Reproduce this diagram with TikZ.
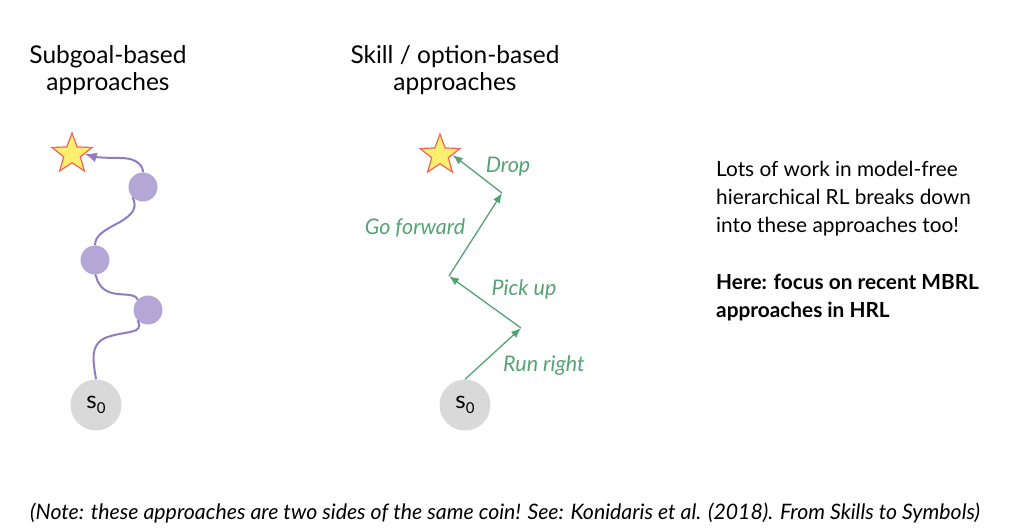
\documentclass[tikz,border=0pt]{standalone}
\usepackage{fontspec}
\setmainfont{Lato}
\usetikzlibrary{shapes.geometric,arrows.meta}
\definecolor{sub}{HTML}{B4A7D6}
\definecolor{subline}{HTML}{8E7CC3}
\definecolor{skl}{HTML}{55A374}
\definecolor{stfill}{HTML}{FFEF6E}
\definecolor{stline}{HTML}{F2645A}
\definecolor{sgray}{HTML}{D9D9D9}
\newcommand{\sz}{s\raisebox{-5pt}{\fontsize{15}{15}\selectfont 0}}
\tikzset{
  goalstar/.style={star, star points=5, star point ratio=2.4, minimum size=42pt, inner sep=0pt, fill=stfill, draw=stline, line width=1.2pt},
  subnode/.style={circle, fill=sub, minimum size=29pt, inner sep=0pt},
  startnode/.style={circle, fill=sgray, minimum size=51pt, inner sep=0pt, font=\fontsize{24}{24}\selectfont},
  subpath/.style={draw=subline, line width=2pt},
  sklpath/.style={draw=skl, line width=1.3pt, -{Latex[length=10pt,width=8pt]}},
  skllabel/.style={text=skl, font=\fontsize{21.5}{24}\selectfont\itshape},
  title/.style={align=center, font=\fontsize{24.5}{27}\selectfont},
}
\begin{document}
\begin{tikzpicture}[x=1pt,y=-1pt]
\useasboundingbox (0,0) rectangle (1035,528);
% titles
\node[title] (t1) at (108,70) {Subgoal-based\\approaches};
\node[title] (t2) at (455,70) {Skill / option-based\\approaches};
% left diagram
\node[goalstar] (g1) at (72,154) {};
\node[subnode] (c1) at (143,187) {};
\node[subnode] (c2) at (95,260) {};
\node[subnode] (c3) at (148,310) {};
\node[startnode] (s1) at (96,405) {\sz};
\draw[subpath] (s1.north) .. controls (93,360) and (90,345) .. (105,338) .. controls (125,330) and (145,335) .. (c3.south west);
\draw[subpath] (c3.north west) .. controls (135,290) and (110,300) .. (100,285) .. controls (96,280) and (97,276) .. (c2.south);
\draw[subpath] (c2.north) .. controls (95,235) and (105,230) .. (120,222) .. controls (132,215) and (138,208) .. (c1.south west);
\draw[subpath, -{Latex[length=12pt,width=10pt]}] (c1.north) .. controls (143,168) and (140,158) .. (120,158) .. controls (105,158) and (95,157) .. (g1.east);
% right diagram
\node[goalstar] (g2) at (440,155) {};
\node[startnode] (s2) at (465,405) {\sz};
\coordinate (p1) at (521,328);
\coordinate (p2) at (449,276);
\coordinate (p3) at (502,193);
\draw[sklpath] (s2.north) -- (p1);
\draw[sklpath] (p1) -- (p2);
\draw[sklpath] (p2) -- (p3);
\draw[sklpath] (p3) -- (g2.east);
\node[skllabel] (l1) at (508,167) {Drop};
\node[skllabel] (l2) at (415,228) {Go forward};
\node[skllabel] (l3) at (524,289) {Pick up};
\node[skllabel] (l4) at (544,366) {Run right};
% right text
\node[anchor=west, align=left, font=\fontsize{20.8}{28.3}\selectfont, inner sep=0pt] (txt) at (716,241) {Lots of work in model-free\\hierarchical RL breaks down\\into these approaches too!\\[28.3pt]\textbf{Here: focus on recent MBRL}\\\textbf{approaches in HRL}};
% note
\node[font=\fontsize{21.3}{24}\selectfont\itshape, inner sep=0pt] (note) at (505,513) {(Note: these approaches are two sides of the same coin! See: Konidaris et al. (2018). From Skills to Symbols)};
\end{tikzpicture}
\end{document}
